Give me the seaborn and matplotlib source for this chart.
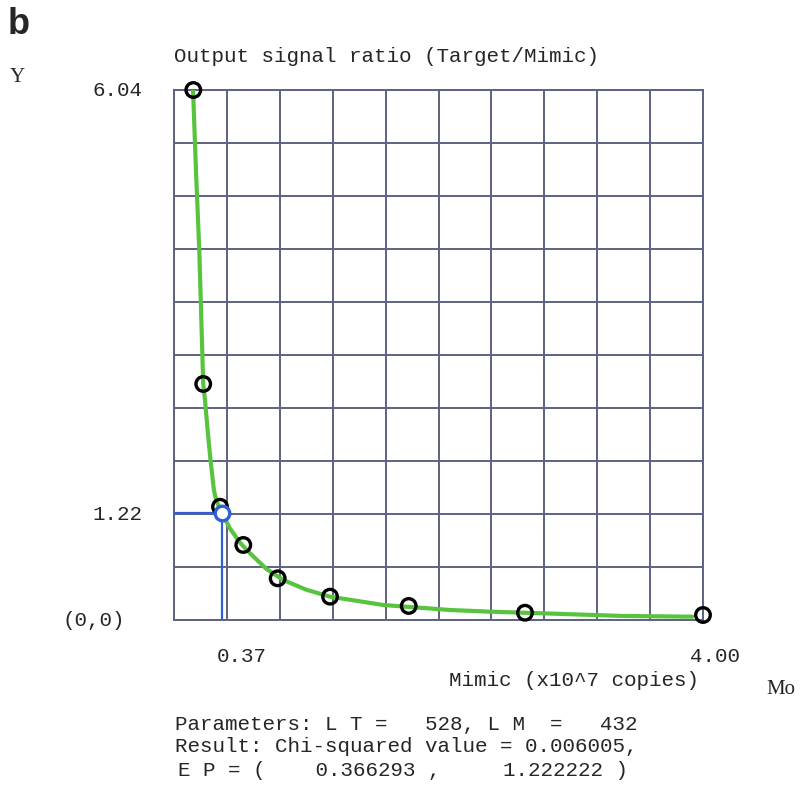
import matplotlib
matplotlib.use("Agg")
import matplotlib.pyplot as plt
import seaborn as sns
import numpy as np
import pandas as pd

# Measured data points (Mimic x10^7 copies, output ratio)
mimic = [0.146, 0.221, 0.348, 0.524, 0.784, 1.180, 1.775, 2.654, 4.00]
ratio = [6.04, 2.69, 1.291, 0.855, 0.475, 0.266, 0.160, 0.083, 0.057]

# Fitted curve
curve_x = [0.144, 0.168, 0.191, 0.209, 0.221, 0.234, 0.255, 0.277, 0.302, 0.318,
           0.340, 0.363, 0.420, 0.500, 0.575, 0.700, 0.826, 1.000, 1.180,
           1.583, 2.087, 2.390, 2.790, 3.395, 3.920]
curve_y = [6.04, 5.05, 4.22, 3.30, 2.69, 2.51, 2.15, 1.81, 1.48, 1.37,
           1.29, 1.22, 1.05, 0.88, 0.76, 0.58, 0.456, 0.345, 0.266,
           0.171, 0.114, 0.095, 0.076, 0.046, 0.038]

# Equivalence point
ep_x = [0.366293]
ep_y = [1.222222]

x_max = 4.00
y_max = 6.04

sns.set_style("white")
mono = ["Liberation Mono", "DejaVu Sans Mono"]
serif = ["Liberation Serif", "DejaVu Serif"]
plt.rcParams["font.family"] = mono

fig = plt.figure(figsize=(8.0, 7.96), dpi=100)
ax = fig.add_axes([174 / 800, 1 - 620 / 796, 529 / 800, 530 / 796])

grid_col = "#5d6282"
ax.set_xlim(0, x_max)
ax.set_ylim(0, y_max)
ax.set_xticks(np.linspace(0, x_max, 11))
ax.set_yticks(np.linspace(0, y_max, 11))
ax.tick_params(length=0, labelbottom=False, labelleft=False)
ax.grid(True, color=grid_col, linewidth=1.4)
for s in ax.spines.values():
    s.set_color(grid_col)
    s.set_linewidth(1.4)

# blue guide lines
ax.plot([0, ep_x[0]], [ep_y[0], ep_y[0]], color="#2f5fd6", lw=1.6, zorder=3)
ax.plot([ep_x[0], ep_x[0]], [0, ep_y[0]], color="#2f5fd6", lw=1.6, zorder=3)

df_curve = pd.DataFrame({"x": curve_x, "y": curve_y})
sns.lineplot(data=df_curve, x="x", y="y", ax=ax, color="#58c43e", lw=3.0,
             sort=False, zorder=4)

df_pts = pd.DataFrame({"x": mimic, "y": ratio})
sns.scatterplot(data=df_pts, x="x", y="y", ax=ax, s=110, facecolor="none",
                edgecolor="black", linewidth=2.4, zorder=5, clip_on=False)
sns.scatterplot(x=ep_x, y=ep_y, ax=ax, s=110, color="white",
                edgecolor="#2f5fd6", linewidth=2.4, zorder=6, clip_on=False)
ax.set_xlabel("")
ax.set_ylabel("")

fs = 15
def ft(x, y, s, **kw):
    fig.text(x / 800, 1 - y / 796, s, **kw)

ft(8, 25, "b", fontsize=26, fontweight="bold", family=["Liberation Sans", "DejaVu Sans"], va="center")
ft(174, 57, "Output signal ratio (Target/Mimic)", fontsize=fs, va="center")
ft(10, 78, "Y", fontsize=fs, family=serif, va="center")
ft(142, 90, "6.04", fontsize=fs, ha="right", va="center")
ft(142, 515, "1.22", fontsize=fs, ha="right", va="center")
ft(125, 620, "(0,0)", fontsize=fs, ha="right", va="center")
ft(217, 656, "0.37", fontsize=fs, va="center")
ft(740, 656, "4.00", fontsize=fs, ha="right", va="center")
ft(449, 680, "Mimic (x10^7 copies)", fontsize=fs, va="center")
ft(766, 690, "Mo", fontsize=fs, family=serif, va="center")
ft(175, 724, "Parameters: L T =   528, L M  =   432", fontsize=fs, va="center")
ft(175, 747, "Result: Chi-squared value = 0.006005,", fontsize=fs, va="center")
ft(178, 770, "E P = (    0.366293 ,     1.222222 )", fontsize=fs, va="center")

fig.savefig("out.png", dpi=100)
